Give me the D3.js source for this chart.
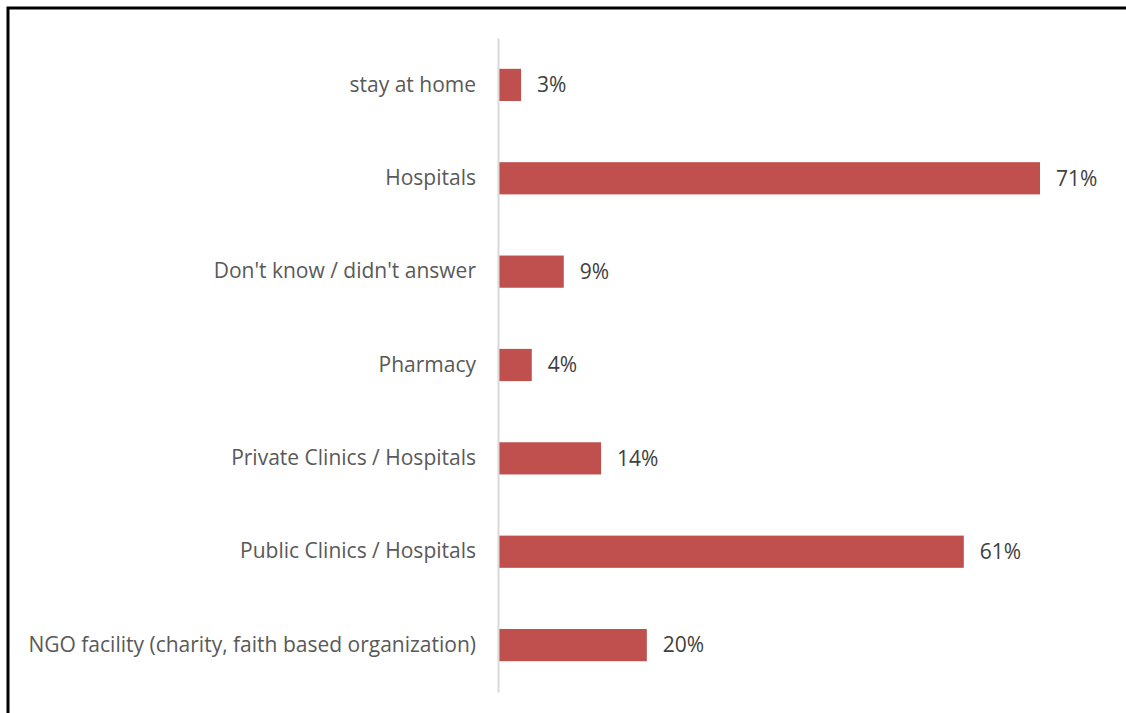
<!DOCTYPE html>
<html lang="en">
<head>
  <meta charset="UTF-8">
  <title>Where people go</title>
  <style>
    body { margin: 0; background: #fff; }
    svg { display: block; }
  </style>
</head>
<body>
<svg id="chart" width="1126" height="713"></svg>

<script src="https://d3js.org/d3.v7.min.js"></script>
<script>
// data, top to bottom (bar lengths, labels as printed)
var categories = [
  "stay at home",
  "Hospitals",
  "Don't know / didn't answer",
  "Pharmacy",
  "Private Clinics / Hospitals",
  "Public Clinics / Hospitals",
  "NGO facility (charity, faith based organization)"
];
var values = [2.9, 71, 8.5, 4.3, 13.4, 61, 19.4];
var valueLabels = ["3%", "71%", "9%", "4%", "14%", "61%", "20%"];

var svg = d3.select("#chart"),
  font = "Open Sans, sans-serif",
  x0 = 499;

// outer frame, runs off the right and bottom edges
svg.append("path")
  .attr("d", "M8,713 L8,8 L1126,8")
  .attr("fill", "none")
  .attr("stroke", "#000")
  .attr("stroke-width", 3);

var x = d3.scaleLinear().domain([0, 71]).range([x0, 1040]);
var y = d3.scaleBand().domain(categories).range([38, 692]).paddingInner(0.655).paddingOuter(0.33);

// bars
svg.selectAll("rect.bar")
  .data(values)
  .enter().append("rect")
  .attr("class", "bar")
  .attr("x", x(0))
  .attr("y", function (d, i) { return y(categories[i]); })
  .attr("width", function (d) { return x(d) - x(0); })
  .attr("height", y.bandwidth())
  .attr("fill", "#c0504d");

// category axis
var axis = svg.append("g")
  .attr("transform", "translate(" + (x0 - 1) + ",0)")
  .call(d3.axisLeft(y).tickSize(0).tickPadding(22));
axis.select(".domain").attr("stroke", "#d9d9d9").attr("stroke-width", 2);
axis.selectAll("text")
  .attr("fill", "#595959")
  .style("font-family", font)
  .style("font-size", "21px");

// value labels
svg.selectAll("text.val")
  .data(values)
  .enter().append("text")
  .attr("class", "val")
  .attr("x", function (d) { return x(d) + 16; })
  .attr("y", function (d, i) { return y(categories[i]) + y.bandwidth() / 2; })
  .attr("dy", "0.35em")
  .attr("fill", "#404040")
  .style("font-family", font)
  .style("font-size", "21px")
  .text(function (d, i) { return valueLabels[i]; });
</script>
</body>
</html>
